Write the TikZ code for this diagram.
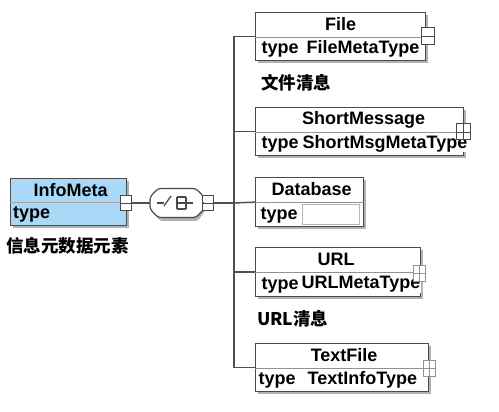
\documentclass[tikz,border=0pt]{standalone}
\usepackage{fontspec}
\setmainfont{Liberation Sans}
\newfontfamily\cjk{Noto Sans CJK SC}
\usetikzlibrary{shadows}
\definecolor{frame}{HTML}{4A4A4A}
\definecolor{wire}{HTML}{505050}
\definecolor{infoblue}{HTML}{A9D9F7}
\tikzset{
  elbox/.style={draw=frame, line width=1.3pt, fill=white, inner sep=0pt,
    drop shadow={shadow xshift=2.5pt, shadow yshift=-2.5pt, fill=gray!60, opacity=1}},
  divline/.style={draw=frame!60, line width=0.9pt},
  eltitle/.style={inner sep=0pt, font=\fontsize{18}{21}\selectfont\bfseries},
  eltype/.style={inner sep=0.5pt, fill=white, font=\fontsize{18}{21}\selectfont\bfseries},
  cjklab/.style={inner sep=0pt, anchor=west, font=\fontsize{17.5}{20}\selectfont\cjk\bfseries},
  wirel/.style={draw=wire, line width=1.5pt},
  sym/.style={draw=frame, line width=1.3pt},
  sq/.style={draw=frame, line width=1pt, fill=white, minimum width=11pt, minimum height=15pt, inner sep=0pt},
  fsq/.style={draw=frame!60, line width=1pt, fill=white, minimum width=12pt, minimum height=16pt, inner sep=0pt},
}
\begin{document}
\begin{tikzpicture}[x=1pt,y=-1pt]
\useasboundingbox (0,0) rectangle (499,412);
\fill[white] (0,0) rectangle (499,412);

% ---------- InfoMeta ----------
\node[elbox, fill=infoblue, minimum width=116pt, minimum height=47pt, anchor=north west] (info) at (10,178) {};
\draw[draw=frame!50, line width=0.9pt] ([yshift=-24pt]info.north west) -- ([yshift=-24pt]info.north east);
\node[eltitle] (info-t) at ([yshift=-12.5pt, xshift=2pt]info.north) {InfoMeta};
\node[eltitle, anchor=west] (info-k) at ([yshift=11.5pt, xshift=3pt]info.south west) {type};
\node[cjklab] (info-l) at (6,246) {信息元数据元素};
\node[sq] (infosq) at (126,203) {};
\draw[frame, line width=0.8pt] (infosq.west) -- (infosq.east);

% ---------- choice compositor ----------
\node[inner sep=0pt, minimum width=54pt, minimum height=29pt] (comp) at (177,203) {};
\fill[gray!60, rounded corners=3pt] (160,191) -- (198,191) -- (206,199) -- (206,209) -- (198,221) -- (160,221) -- (152,211) -- (152,199) -- cycle;
\draw[frame, line width=1.2pt, fill=white, rounded corners=3pt] (158,188.5) -- (196,188.5) -- (204,197) -- (204,209) -- (196,217.5) -- (158,217.5) -- (150,209) -- (150,197) -- cycle;
\draw[sym] (157,203) -- (164,203);
\draw[sym] (164,206) -- (171,196);
\draw[sym] (177,197) -- (177,209);
\draw[sym] (177,197) -- ++(9,0) (177,203) -- ++(9,0) (177,209) -- ++(9,0);
\draw[sym] (186,197) -- (186,209);
\draw[sym] (186,203) -- (193,203);
\node[sq] (compsq) at (208,203) {};
\draw[frame, line width=0.8pt] (compsq.west) -- (compsq.east);

\draw[wirel] (infosq.east) -- (comp.west);
\draw[wirel] (comp.east) -- (compsq.west);

% ---------- File ----------
\node[elbox, minimum width=170pt, minimum height=48pt, anchor=north west] (file) at (255,12) {};
\draw[divline] ([yshift=-25pt]file.north west) -- ([yshift=-25pt]file.north east);
\node[eltitle] (file-t) at ([yshift=-12.5pt]file.north) {File};
\node[eltype, anchor=west] (file-k) at ([yshift=11.5pt, xshift=6pt]file.south west) {type};
\node[eltype, anchor=west] (file-v) at (306,48.5) {FileMetaType};
\node[sq, minimum width=13pt, minimum height=17pt] (filesq) at (428,36) {};
\draw[frame, line width=0.8pt] (filesq.west) -- (filesq.east);
\node[cjklab] (file-l) at (261,83) {文件清息};

% ---------- ShortMessage ----------
\node[elbox, minimum width=208pt, minimum height=48pt, anchor=north west] (sm) at (255,107) {};
\draw[divline] ([yshift=-25pt]sm.north west) -- ([yshift=-25pt]sm.north east);
\node[eltitle] (sm-t) at ([yshift=-12.5pt, xshift=4pt]sm.north) {ShortMessage};
\node[eltype, anchor=west] (sm-k) at ([yshift=11.5pt, xshift=6pt]sm.south west) {type};
\node[eltype, anchor=west] (sm-v) at (302,143.5) {ShortMsgMetaType};
\node[sq, minimum width=14pt, minimum height=16pt] (smsq) at (463,132) {};
\draw[frame, line width=0.9pt] (smsq.west) -- (smsq.east) (smsq.north) -- (smsq.south);

% ---------- Database ----------
\node[elbox, minimum width=108pt, minimum height=49pt, anchor=north west] (db) at (255,177) {};
\draw[divline] ([yshift=-25pt]db.north west) -- ([yshift=-25pt]db.north east);
\node[eltitle] (db-t) at ([yshift=-12.5pt, xshift=2pt]db.north) {Database};
\node[eltype, anchor=west] (db-k) at ([yshift=11.5pt, xshift=5pt]db.south west) {type};
\node[draw=frame!40, line width=0.6pt, fill=white, inner sep=0pt, minimum width=57pt, minimum height=20pt, anchor=west] (db-v) at (302,214) {};

% ---------- URL ----------
\node[elbox, minimum width=165pt, minimum height=49pt, anchor=north west] (url) at (255,247) {};
\draw[divline] ([yshift=-25pt]url.north west) -- ([yshift=-25pt]url.north east);
\node[eltitle] (url-t) at ([yshift=-12.5pt, xshift=-2pt]url.north) {URL};
\node[eltype, anchor=west] (url-k) at ([yshift=11.5pt, xshift=6pt]url.south west) {type};
\node[eltype, anchor=west] (url-v) at (301,284.5) {URLMetaType};
\node[fsq] (urlsq) at (419,273) {};
\draw[frame!60, line width=0.8pt] (urlsq.west) -- (urlsq.east) (urlsq.north) -- (urlsq.south);
\node[cjklab] (url-l) at (257,319) {URL清息};

% ---------- TextFile ----------
\node[elbox, minimum width=173pt, minimum height=48pt, anchor=north west] (tf) at (255,343) {};
\draw[divline] ([yshift=-25pt]tf.north west) -- ([yshift=-25pt]tf.north east);
\node[eltitle] (tf-t) at ([yshift=-12.5pt, xshift=2pt]tf.north) {TextFile};
\node[eltype, anchor=west] (tf-k) at ([yshift=11.5pt, xshift=3pt]tf.south west) {type};
\node[eltype, anchor=west] (tf-v) at (307,379.5) {TextInfoType};
\node[fsq] (tfsq) at (429,368) {};
\draw[frame!60, line width=0.8pt] (tfsq.west) -- (tfsq.east) (tfsq.north) -- (tfsq.south);

% ---------- connectors ----------
\coordinate (bus) at (234,203);
\draw[wirel] (compsq.east) -- (bus);
\draw[wirel] (file.west) -| (bus) |- (tf.west);
\draw[wirel] (bus) |- (sm.west);
\draw[wirel] (bus) |- (url.west);
\draw[wirel] (bus) -- (db.west);
\end{tikzpicture}
\end{document}
